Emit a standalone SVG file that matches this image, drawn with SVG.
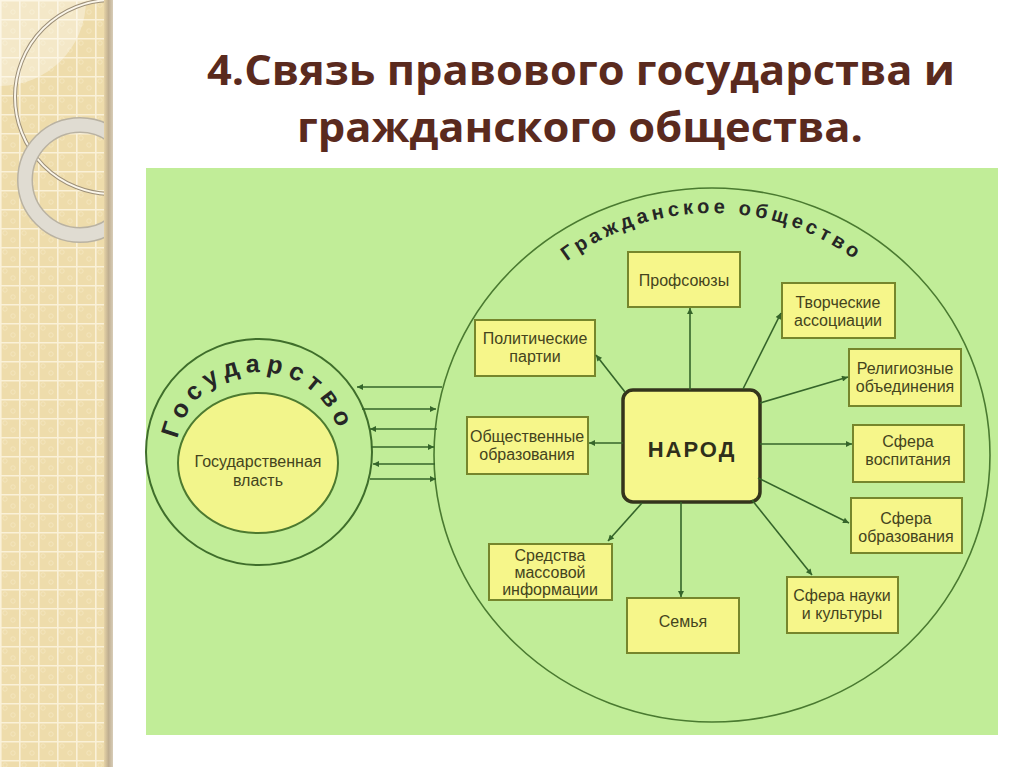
<svg xmlns="http://www.w3.org/2000/svg" width="1024" height="767" viewBox="0 0 1024 767">
<defs>
<pattern id="grid" x="0" y="0" width="19" height="19" patternUnits="userSpaceOnUse">
<rect width="19" height="19" fill="#eedcab"/>
<circle cx="5" cy="5" r="2.2" fill="none" stroke="#f5e6bf" stroke-width="0.8"/>
<circle cx="13" cy="12" r="2.2" fill="none" stroke="#f5e6bf" stroke-width="0.8"/>
<path d="M0,0.8 H19 M0.8,0 V19" stroke="#faf1d8" stroke-width="1.6"/>
</pattern>
<linearGradient id="edge" x1="0" y1="0" x2="1" y2="0">
<stop offset="0" stop-color="#e6d3a6"/>
<stop offset="0.5" stop-color="#bfae90"/>
<stop offset="1" stop-color="#d8cdb8"/>
</linearGradient>
<clipPath id="stripClip"><rect x="0" y="0" width="108" height="767"/></clipPath>
<marker id="ah" viewBox="0 0 10 10" refX="10" refY="5" markerWidth="8" markerHeight="6" markerUnits="userSpaceOnUse" orient="auto">
<path d="M0,0 L10,5 L0,10 z" fill="#35652a"/>
</marker>
<path id="stateArc" d="M176,455 A83,83 0 0 1 342,455"/>
<path id="civilArc" d="M470,455 A242,242 0 0 1 954,455"/>
<style>
.box{fill:#f6f68a;stroke:#76862c;stroke-width:2}
.bt{font-family:"Liberation Sans",Arial,sans-serif;font-size:16px;fill:#44441d;text-anchor:middle}
.conn{stroke:#35652a;stroke-width:1.6;fill:none;marker-end:url(#ah)}
.title{font-family:"Open Sans","Liberation Sans",sans-serif;font-weight:bold;font-size:41px;fill:#5a2a1e}
.arc{font-family:"Liberation Sans",Arial,sans-serif;font-weight:bold;fill:#262626}
</style>
</defs>
<rect width="1024" height="767" fill="#ffffff"/>
<g id="strip">
<rect x="0" y="0" width="108" height="767" fill="url(#grid)"/>
<g clip-path="url(#stripClip)">
<circle cx="0" cy="0" r="86" fill="#ffffff" fill-opacity="0.35"/>
<circle cx="112" cy="97" r="97" fill="none" stroke="#9c8f78" stroke-width="4"/>
<circle cx="112" cy="97" r="97" fill="none" stroke="#fbf6ea" stroke-width="2"/>
<circle cx="80" cy="180" r="55" fill="none" stroke="#b9b2a2" stroke-width="16"/>
<circle cx="80" cy="180" r="55" fill="none" stroke="#e0dcd2" stroke-width="13"/>
</g>
<rect x="104" y="0" width="9" height="767" fill="url(#edge)"/>
</g>
<g id="title">
<text class="title" x="207" y="85" textLength="748" lengthAdjust="spacingAndGlyphs">4.Связь правового государства и</text>
<text class="title" x="297" y="142" textLength="566" lengthAdjust="spacingAndGlyphs">гражданского общества.</text>
</g>
<rect id="panel" x="146" y="168" width="852" height="567" fill="#c1ed98"/>
<g id="state">
<circle cx="259" cy="452" r="113" fill="#c1ed98" stroke="#3f6e2b" stroke-width="2"/>
<text class="arc" font-size="25" letter-spacing="6"><textPath href="#stateArc" startOffset="49%" text-anchor="middle">Государство</textPath></text>
</g>
<g id="power">
<ellipse cx="258" cy="463" rx="80" ry="70" fill="#f2f58b" stroke="#4d7a30" stroke-width="2"/>
<text class="bt" x="258" y="467" font-size="18" fill="#4a4a22">Государственная</text>
<text class="bt" x="258" y="486" font-size="18" fill="#4a4a22">власть</text>
</g>
<g id="civil">
<ellipse cx="712" cy="455" rx="278" ry="267" fill="none" stroke="#4a7a30" stroke-width="1.6"/>
<text class="arc" font-size="20" letter-spacing="4"><textPath href="#civilArc" startOffset="50%" text-anchor="middle">Гражданское общество</textPath></text>
</g>
<g id="narod">
<rect x="623" y="390" width="137" height="112" rx="10" fill="#f6f78c" stroke="#34341c" stroke-width="3.5"/>
<text x="692" y="457" font-family="Liberation Sans,Arial,sans-serif" font-weight="bold" font-size="22" letter-spacing="2" fill="#2f2f1a" text-anchor="middle">НАРОД</text>
</g>
<g id="profsoyuzy">
<rect class="box" x="628" y="252" width="112" height="55"/>
<text class="bt" x="684" y="286">Профсоюзы</text>
</g>
<g id="partii">
<rect class="box" x="475" y="320" width="120" height="56"/>
<text class="bt" x="535" y="344">Политические</text>
<text class="bt" x="535" y="362">партии</text>
</g>
<g id="obshch">
<rect class="box" x="467" y="417" width="121" height="57"/>
<text class="bt" x="527" y="442">Общественные</text>
<text class="bt" x="527" y="460">образования</text>
</g>
<g id="tvorch">
<rect class="box" x="782" y="283" width="113" height="55"/>
<text class="bt" x="838" y="308">Творческие</text>
<text class="bt" x="838" y="326">ассоциации</text>
</g>
<g id="relig">
<rect class="box" x="849" y="349" width="112" height="57"/>
<text class="bt" x="905" y="374">Религиозные</text>
<text class="bt" x="905" y="392">объединения</text>
</g>
<g id="vospit">
<rect class="box" x="853" y="425" width="111" height="57"/>
<text class="bt" x="908" y="447">Сфера</text>
<text class="bt" x="908" y="465">воспитания</text>
</g>
<g id="obraz">
<rect class="box" x="851" y="498" width="111" height="55"/>
<text class="bt" x="906" y="524">Сфера</text>
<text class="bt" x="906" y="542">образования</text>
</g>
<g id="nauka">
<rect class="box" x="787" y="577" width="111" height="56"/>
<text class="bt" x="842" y="601">Сфера науки</text>
<text class="bt" x="842" y="619">и культуры</text>
</g>
<g id="smi">
<rect class="box" x="489" y="544" width="123" height="56"/>
<text class="bt" x="550" y="561">Средства</text>
<text class="bt" x="550" y="578">массовой</text>
<text class="bt" x="550" y="595">информации</text>
</g>
<g id="semya">
<rect class="box" x="627" y="598" width="112" height="55"/>
<text class="bt" x="683" y="627">Семья</text>
</g>
<g id="connectors">
<path class="conn" d="M690,390 L690,308"/>
<path class="conn" d="M625,392 L596,355"/>
<path class="conn" d="M623,443 L589,443"/>
<path class="conn" d="M743,389 L781,313"/>
<path class="conn" d="M760,403 L848,377"/>
<path class="conn" d="M760,444 L852,444"/>
<path class="conn" d="M758,478 L849,523"/>
<path class="conn" d="M752,500 L812,575"/>
<path class="conn" d="M642,503 L608,541"/>
<path class="conn" d="M681,502 L681,597"/>
<path class="conn" d="M442,387 L357,387"/>
<path class="conn" d="M362,409 L436,409"/>
<path class="conn" d="M437,429 L370,429"/>
<path class="conn" d="M371,447 L434,447"/>
<path class="conn" d="M435,464 L373,464"/>
<path class="conn" d="M370,479 L436,479"/>
</g>
</svg>
